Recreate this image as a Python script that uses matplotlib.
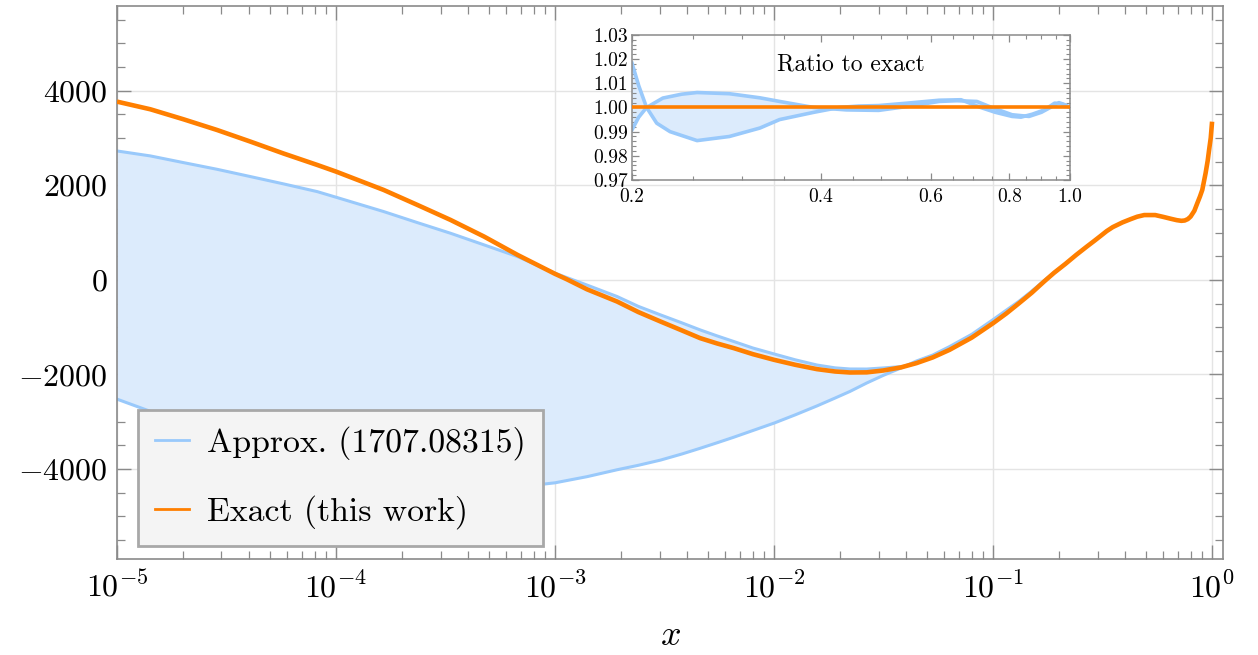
import matplotlib
matplotlib.use('Agg')
import matplotlib.pyplot as plt
from matplotlib.ticker import FixedLocator, FuncFormatter, LogLocator, NullFormatter
from matplotlib.lines import Line2D
import numpy as np

plt.rcParams['font.family'] = 'cmr10'
plt.rcParams['mathtext.fontset'] = 'cm'
plt.rcParams['axes.formatter.use_mathtext'] = True

# exact result
x_exact = [1e-5, 1.42e-5, 2.01e-5, 2.86e-5, 4.07e-5, 5.77e-5, 8.2e-5, 1e-4, 1.65e-4, 2.35e-4,
           3.33e-4, 4.74e-4, 6.74e-4, 1e-3, 1.13e-3, 1.4e-3, 1.92e-3, 2.4e-3, 3.03e-3, 3.8e-3,
           4.6e-3, 5.5e-3, 6.55e-3, 8e-3, 1e-2, 1.25e-2, 1.57e-2, 1.9e-2, 2.22e-2, 2.65e-2,
           3.15e-2, 3.8e-2, 4.47e-2, 5.3e-2, 6.33e-2, 8e-2, 0.1, 0.115, 0.1315, 0.15, 0.171,
           0.19, 0.214, 0.24, 0.268, 0.29, 0.31, 0.33, 0.352, 0.39, 0.424, 0.455, 0.49, 0.55,
           0.6, 0.65, 0.69, 0.724, 0.75, 0.775, 0.798, 0.83, 0.856, 0.88, 0.902, 0.934, 0.955,
           0.969, 0.986, 1.0]
y_exact = [3768, 3606, 3395, 3169, 2922, 2670, 2430, 2289, 1901, 1585,
           1268, 916, 528, 127, 14, -200, -458, -680, -880, -1070,
           -1232, -1345, -1443, -1570, -1690, -1795, -1887, -1937, -1958, -1955,
           -1916, -1850, -1760, -1640, -1479, -1220, -916, -710, -493, -275, -35,
           150, 338, 530, 704, 825, 930, 1030, 1115, 1215, 1282, 1335, 1370, 1370,
           1330, 1290, 1262, 1248, 1255, 1285, 1338, 1460, 1620, 1760, 1901, 2254, 2520,
           2746, 3000, 3344]

# approximation band (1707.08315), upper and lower edge
x_approx = [1e-5, 1.42e-5, 2.01e-5, 2.86e-5, 4.07e-5, 5.77e-5, 8.2e-5, 1e-4, 1.65e-4, 2.35e-4,
            3.33e-4, 4.74e-4, 6.74e-4, 1e-3, 1.4e-3, 1.92e-3, 2.4e-3, 3.03e-3, 3.8e-3,
            4.6e-3, 5.5e-3, 6.55e-3, 8e-3, 1e-2, 1.25e-2, 1.57e-2, 1.9e-2, 2.22e-2, 2.65e-2,
            3.15e-2, 3.88e-2, 4.47e-2, 5.3e-2, 6.33e-2, 8e-2, 0.1, 0.115, 0.1315, 0.15, 0.171, 0.214]
y_approx_hi = [2725, 2620, 2479, 2338, 2183, 2028, 1866, 1747, 1444, 1211,
               986, 740, 493, 141, -110, -352, -560, -740, -910,
               -1058, -1185, -1303, -1440, -1566, -1690, -1800, -1860, -1884, -1885,
               -1862, -1830, -1745, -1620, -1460, -1190, -890, -680, -465, -250, -20, 340]
y_approx_lo = [-2521, -2780, -3050, -3300, -3530, -3720, -3880, -3960, -4130, -4240,
               -4320, -4370, -4380, -4290, -4160, -4014, -3920, -3810, -3680,
               -3560, -3443, -3326, -3185, -3028, -2853, -2665, -2498, -2359, -2180,
               -2020, -1845, -1715, -1590, -1410, -1150, -840, -640, -450, -240, -20, 340]

# ratio approx / exact (inset)
x_ratio_a = [0.2, 0.205, 0.211, 0.219, 0.23, 0.254, 0.286, 0.32, 0.344, 0.39, 0.428, 0.46,
             0.495, 0.55, 0.618, 0.67, 0.72, 0.76, 0.808, 0.835, 0.87, 0.91, 0.945, 0.97, 1.0]
y_ratio_a = [1.0183, 1.009, 1.000, 0.9935, 0.990, 0.9863, 0.988, 0.9915, 0.995, 0.998, 1.000, 1.0006,
             1.0008, 1.0018, 1.003, 1.0032, 1.000, 0.998, 0.9963, 0.996, 0.9972, 0.999, 1.0018, 1.0015, 1.000]
x_ratio_b = [0.2, 0.205, 0.211, 0.224, 0.24, 0.254, 0.286, 0.32, 0.344, 0.39, 0.44, 0.495,
             0.56, 0.618, 0.66, 0.71, 0.75, 0.808, 0.86, 0.9, 0.93, 0.96, 0.98, 1.0]
y_ratio_b = [0.9908, 0.996, 1.000, 1.0039, 1.0055, 1.0062, 1.0057, 1.004, 1.0025, 1.000, 0.999, 0.9988,
             1.0007, 1.0025, 1.0028, 1.0025, 1.000, 0.997, 0.9963, 0.998, 1.0, 1.002, 1.0012, 1.000]
x_ratio_exact = [0.2, 1.0]
y_ratio_exact = [1.0, 1.0]

blue = '#99c9fb'
fill = '#dcebfc'
orange = '#ff7f00'
spine = '#8a8a8a'
gridc = '#e4e4e4'

fig = plt.figure(figsize=(12.58, 6.55), dpi=100)
ax = fig.add_axes([0.093, 0.1466, 0.8792, 0.8443])

ax.fill_between(x_approx, y_approx_lo, y_approx_hi, color=fill, lw=0, zorder=1)
ax.plot(x_approx, y_approx_hi, color=blue, lw=2.2, zorder=2)
ax.plot(x_approx, y_approx_lo, color=blue, lw=2.2, zorder=2)
ax.plot(x_exact, y_exact, color=orange, lw=3.3, zorder=3, solid_capstyle='butt')

ax.set_xscale('log')
ax.set_xlim(1e-5, 1.122)
ax.set_ylim(-5900, 5790)

ax.xaxis.set_major_locator(LogLocator(base=10, numticks=10))
ax.xaxis.set_minor_locator(LogLocator(base=10, subs=np.arange(2, 10), numticks=20))
ax.xaxis.set_major_formatter(FuncFormatter(lambda v, p: r'$10^{%d}$' % round(np.log10(v))))
ax.xaxis.set_minor_formatter(NullFormatter())
ax.yaxis.set_major_locator(FixedLocator([-4000, -2000, 0, 2000, 4000]))
ax.yaxis.set_minor_locator(FixedLocator(np.arange(-5500, 5600, 500)))
ax.yaxis.set_major_formatter(FuncFormatter(lambda v, p: r'$%d$' % v))

ax.tick_params(which='both', direction='in', top=True, right=True, colors=spine,
               labelcolor='black', labelsize=23)
ax.tick_params(which='major', length=10, width=1)
ax.tick_params(which='minor', length=6, width=0.9)
ax.tick_params(axis='x', pad=9)
ax.tick_params(axis='y', pad=7)
for s in ax.spines.values():
    s.set_color(spine)
    s.set_linewidth(1.2)
ax.grid(True, which='major', color=gridc, lw=1)
ax.set_axisbelow(True)
ax.set_xlabel(r'$x$', fontsize=26, labelpad=12)

handles = [Line2D([], [], color=blue, lw=2), Line2D([], [], color=orange, lw=2)]
leg = ax.legend(handles, ['Approx. (1707.08315)', 'Exact (this work)'],
                loc='lower left', bbox_to_anchor=(0.019, 0.0235), fontsize=24.3,
                fancybox=False, framealpha=1, facecolor='#f4f4f4', edgecolor='#a8a8a8',
                handlelength=1.0, handletextpad=0.55, borderpad=0.5, labelspacing=1.03,
                borderaxespad=0)
leg.get_frame().set_linewidth(2)
leg.set_zorder(10)

# inset: ratio to exact
ins = fig.add_axes([0.5024, 0.7252, 0.3482, 0.2214])
ins.patch.set_facecolor('none')
ins.fill(np.concatenate([x_ratio_a, x_ratio_b[::-1]]),
         np.concatenate([y_ratio_a, y_ratio_b[::-1]]), color=fill, lw=0, zorder=1)
ins.plot(x_ratio_a, y_ratio_a, color=blue, lw=2.6, zorder=2)
ins.plot(x_ratio_b, y_ratio_b, color=blue, lw=2.6, zorder=2)
ins.plot(x_ratio_exact, y_ratio_exact, color=orange, lw=2.6, zorder=3)
ins.set_xscale('log')
ins.set_xlim(0.2, 1.0)
ins.set_ylim(0.97, 1.03)
ins.xaxis.set_major_locator(FixedLocator([0.2, 0.4, 0.6, 0.8, 1.0]))
ins.xaxis.set_major_formatter(FuncFormatter(lambda v, p: '%.1f' % v))
ins.xaxis.set_minor_locator(FixedLocator([0.25, 0.3, 0.35, 0.45, 0.5, 0.55, 0.65, 0.7,
                                          0.75, 0.85, 0.9, 0.95]))
ins.xaxis.set_minor_formatter(NullFormatter())
ins.yaxis.set_major_locator(FixedLocator([0.97, 0.98, 0.99, 1.0, 1.01, 1.02, 1.03]))
ins.yaxis.set_major_formatter(FuncFormatter(lambda v, p: '%.2f' % v))
ins.yaxis.set_minor_locator(FixedLocator(np.arange(0.970, 1.0301, 0.002)))
ins.tick_params(which='both', direction='in', top=True, right=True, colors=spine,
                labelcolor='black', labelsize=14)
ins.tick_params(which='major', length=5, width=0.9)
ins.tick_params(which='minor', length=3, width=0.8)
ins.tick_params(axis='x', pad=6)
ins.tick_params(axis='y', pad=3)
for s in ins.spines.values():
    s.set_color(spine)
    s.set_linewidth(1.1)
ins.text(0.5, 0.8, 'Ratio to exact', transform=ins.transAxes, ha='center', va='center',
         fontsize=17)

fig.savefig('out.png', dpi=100)
